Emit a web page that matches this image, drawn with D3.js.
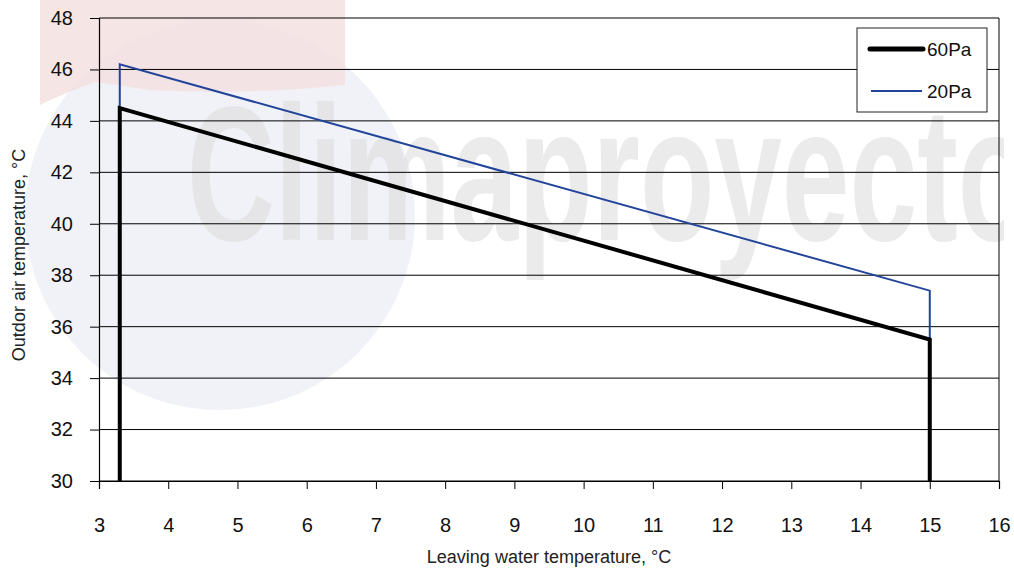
<!DOCTYPE html>
<html>
<head>
<meta charset="utf-8">
<script src="https://cdn.jsdelivr.net/npm/d3@7"></script>
<style>
  body { margin: 0; background: #fff; }
  svg { font-family: "Liberation Sans", Arial, sans-serif; }
</style>
</head>
<body>
<script>
// chart data
var seriesNames = ['60Pa', '20Pa'];
var water60 = [3.3, 3.3, 15, 15];
var air60 = [30, 44.5, 35.5, 30];
var water20 = [3.3, 3.3, 15, 15];
var air20 = [30, 46.2, 37.4, 30];
var xTicks = [3, 4, 5, 6, 7, 8, 9, 10, 11, 12, 13, 14, 15, 16];
var yTicks = [30, 32, 34, 36, 38, 40, 42, 44, 46, 48];

var width = 1014, height = 570;
var margin = {top: 18, right: 15, bottom: 89, left: 99};

var svg = d3.select('body')
  .append('svg')
  .attr('width', width)
  .attr('height', height);

var x = d3.scaleLinear().domain([3, 16]).range([margin.left, width - margin.right]);
var y = d3.scaleLinear().domain([30, 48]).range([height - margin.bottom, margin.top]);

// faint logo watermark behind the plot
svg.append('defs').append('clipPath').attr('id', 'wmclip')
  .append('rect').attr('x', 0).attr('y', 0).attr('width', 1004).attr('height', height);

var wm = svg.append('g').attr('class', 'watermark').attr('clip-path', 'url(#wmclip)');
wm.append('circle')
  .attr('cx', 220).attr('cy', 215).attr('r', 195)
  .attr('fill', '#eceef4').attr('opacity', 0.75);
wm.append('path')
  .attr('d', 'M40,0 L345,0 L345,85 Q250,95 150,90 L95,82 Q60,95 40,105 Z')
  .attr('fill', '#f5e0e1').attr('opacity', 0.85);
wm.append('text')
  .attr('x', 187).attr('y', 240)
  .attr('font-size', 192)
  .attr('font-weight', 'bold')
  .attr('textLength', 845)
  .attr('lengthAdjust', 'spacingAndGlyphs')
  .attr('fill', '#dedede').attr('opacity', 0.6)
  .text('Climaproyecto');

// horizontal grid lines
svg.append('g')
  .selectAll('line')
  .data(yTicks)
  .enter()
  .append('line')
  .attr('x1', x(3)).attr('x2', x(16))
  .attr('y1', function(d) { return y(d); })
  .attr('y2', function(d) { return y(d); })
  .attr('stroke', '#000')
  .attr('stroke-width', 1);

// right border
svg.append('line')
  .attr('x1', x(16)).attr('x2', x(16))
  .attr('y1', y(48)).attr('y2', y(30))
  .attr('stroke', '#000');

var xAxis = svg.append('g')
  .attr('transform', 'translate(0,' + y(30) + ')')
  .call(d3.axisBottom(x).tickValues(xTicks).tickSize(8).tickPadding(29).tickFormat(d3.format('d')));

var yAxis = svg.append('g')
  .attr('transform', 'translate(' + x(3) + ',0)')
  .call(d3.axisLeft(y).tickValues(yTicks).tickSize(9).tickPadding(17).tickFormat(d3.format('d')));

[xAxis, yAxis].forEach(function(a) {
  a.select('.domain').attr('stroke', '#000').attr('stroke-width', 1.2);
  a.selectAll('.tick line').attr('stroke', '#000');
  a.selectAll('.tick text')
    .attr('font-size', 20)
    .attr('font-family', '"Liberation Sans", Arial, sans-serif')
    .attr('fill', '#111');
});

// series lines
var line = d3.line()
  .x(function(d) { return x(d[0]); })
  .y(function(d) { return y(d[1]); });

svg.append('path')
  .datum(d3.zip(water20, air20))
  .attr('d', line)
  .attr('fill', 'none')
  .attr('stroke', '#22449a')
  .attr('stroke-width', 2);

svg.append('path')
  .datum(d3.zip(water60, air60))
  .attr('d', line)
  .attr('fill', 'none')
  .attr('stroke', '#000')
  .attr('stroke-width', 4);

// legend
var legend = svg.append('g');
legend.append('rect')
  .attr('x', 857).attr('y', 28)
  .attr('width', 130).attr('height', 84)
  .attr('fill', '#fff')
  .attr('stroke', '#222');
legend.append('line')
  .attr('x1', 870).attr('x2', 923).attr('y1', 49).attr('y2', 49)
  .attr('stroke', '#000').attr('stroke-width', 5).attr('stroke-linecap', 'round');
legend.append('line')
  .attr('x1', 871).attr('x2', 922).attr('y1', 91).attr('y2', 91)
  .attr('stroke', '#22449a').attr('stroke-width', 2);
legend.selectAll('text')
  .data(seriesNames)
  .enter()
  .append('text')
  .attr('x', 927)
  .attr('y', function(d, i) { return 56 + i * 42; })
  .attr('font-size', 19)
  .attr('fill', '#111')
  .text(function(d) { return d; });

// axis titles
svg.append('text')
  .attr('x', (x(3) + x(16)) / 2)
  .attr('y', 563)
  .attr('text-anchor', 'middle')
  .attr('font-size', 18)
  .attr('fill', '#222')
  .text('Leaving water temperature, °C');

svg.append('text')
  .attr('transform', 'translate(25,255) rotate(-90)')
  .attr('text-anchor', 'middle')
  .attr('font-size', 18)
  .attr('fill', '#222')
  .text('Outdor air temperature, °C');
</script>
</body>
</html>
